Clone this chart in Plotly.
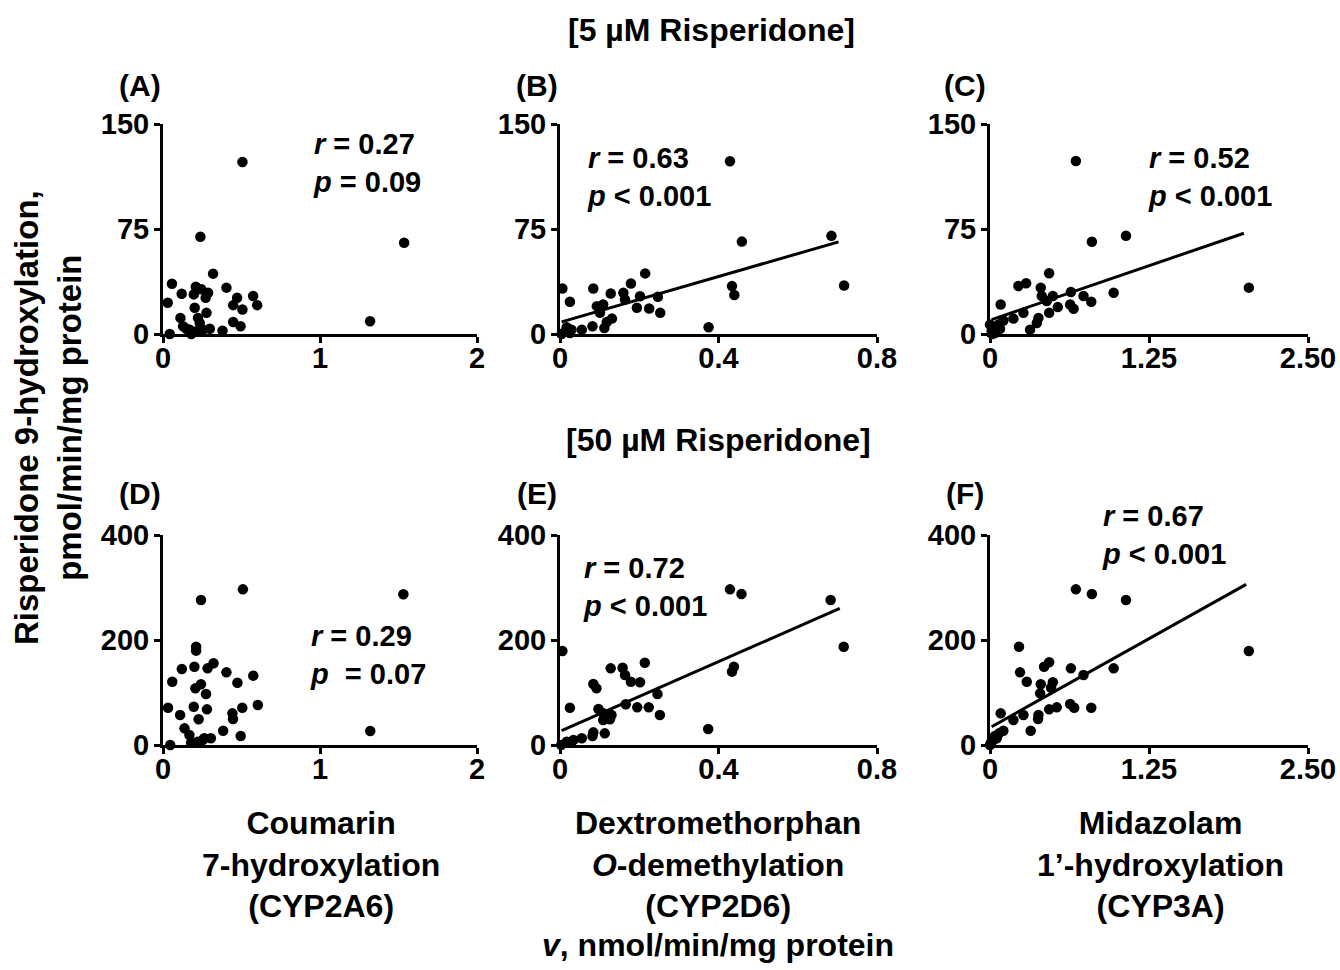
import plotly.graph_objects as go

# ---------------- data ----------------
# Panel A: CYP2A6 vs 5 uM risperidone
a_x = [0.506, 0.238, 1.536, 1.319, 0.319, 0.057, 0.119, 0.030, 0.209, 0.245, 0.287, 0.196,
       0.272, 0.404, 0.472, 0.447, 0.506, 0.574, 0.600, 0.202, 0.277, 0.111, 0.223, 0.128,
       0.170, 0.234, 0.298, 0.379, 0.447, 0.494, 0.043, 0.180, 0.213, 0.255, 0.149]
a_y = [122.9, 69.5, 65.2, 9.1, 43.1, 35.9, 28.8, 22.3, 33.8, 31.9, 29.5, 28.3,
       25.9, 33.1, 25.9, 20.6, 17.5, 27.1, 20.6, 18.7, 15.1, 11.5, 11.5, 5.5,
       3.1, 7.9, 3.8, 2.4, 8.6, 5.5, 0.0, 0.0, 1.9, 3.1, 3.8]

# Panel B: CYP2D6 vs 5 uM risperidone
b_x = [0.429, 0.459, 0.685, 0.717, 0.434, 0.440, 0.375, 0.215, 0.006, 0.025, 0.084, 0.128,
       0.160, 0.179, 0.164, 0.202, 0.247, 0.194, 0.225, 0.253, 0.093, 0.109, 0.101, 0.131,
       0.112, 0.082, 0.055, 0.029, 0.017, 0.004, 0.025, 0.118, 0.013]
b_y = [123.4, 66.0, 70.1, 34.7, 34.2, 27.8, 4.8, 43.3, 32.5, 23.0, 32.5, 28.9,
       29.4, 36.1, 24.6, 27.0, 26.6, 18.7, 18.2, 15.1, 19.9, 21.1, 15.1, 11.0,
       4.3, 5.5, 3.1, 3.1, 4.8, 0.0, 0.7, 8.6, 1.9]

# Panel C: CYP3A vs 5 uM risperidone
c_x = [0.675, 0.801, 1.069, 2.035, 0.972, 0.465, 0.223, 0.284, 0.399, 0.407, 0.494, 0.636,
       0.735, 0.796, 0.446, 0.533, 0.630, 0.657, 0.465, 0.381, 0.368, 0.315, 0.263, 0.184,
       0.084, 0.105, 0.066, 0.026, 0.013, 0.039, 0.079, 0.018, 0.000]
c_y = [123.6, 65.9, 70.2, 33.1, 29.5, 43.4, 34.3, 36.2, 33.1, 27.1, 27.1, 30.0,
       27.1, 23.0, 23.5, 19.2, 21.1, 18.0, 15.1, 11.5, 7.9, 3.1, 15.1, 11.0,
       21.1, 9.6, 6.7, 4.8, 1.9, 0.7, 3.8, 0.0, 6.7]

# Panel D: CYP2A6 vs 50 uM risperidone
d_x = [0.509, 0.242, 1.531, 1.320, 0.211, 0.211, 0.120, 0.200, 0.284, 0.322, 0.404, 0.575,
       0.059, 0.474, 0.242, 0.206, 0.274, 0.032, 0.196, 0.280, 0.505, 0.604, 0.109, 0.442,
       0.227, 0.446, 0.137, 0.383, 0.495, 0.168, 0.305, 0.253, 0.179, 0.046, 0.221, 0.263]
d_y = [296.5, 276.2, 287.0, 26.7, 187.3, 179.7, 144.8, 149.2, 146.0, 155.6, 138.4, 132.1,
       120.6, 118.7, 115.6, 107.9, 97.1, 71.1, 73.0, 67.9, 71.1, 76.2, 57.1, 60.3,
       48.9, 49.5, 31.7, 27.3, 17.1, 19.0, 12.7, 9.5, 4.4, 0.0, 6.3, 12.7]

# Panel E: CYP2D6 vs 50 uM risperidone
e_x = [0.429, 0.458, 0.683, 0.716, 0.006, 0.439, 0.434, 0.374, 0.214, 0.128, 0.158, 0.164,
       0.179, 0.202, 0.084, 0.092, 0.246, 0.166, 0.195, 0.224, 0.252, 0.025, 0.097, 0.109,
       0.130, 0.109, 0.126, 0.113, 0.082, 0.084, 0.055, 0.034, 0.017, 0.003, 0.025]
e_y = [296.5, 287.6, 276.2, 187.3, 179.0, 149.2, 139.7, 30.5, 156.8, 146.0, 147.3, 133.3,
       120.6, 119.4, 116.2, 107.9, 97.1, 77.5, 71.7, 71.7, 57.1, 71.1, 68.6, 60.3,
       57.1, 47.6, 48.9, 22.2, 17.1, 24.1, 12.7, 9.5, 6.3, 0.0, 4.4]

# Panel F: CYP3A vs 50 uM risperidone
f_x = [0.675, 0.801, 1.069, 2.035, 0.228, 0.236, 0.289, 0.465, 0.425, 0.636, 0.972, 0.735,
       0.399, 0.494, 0.394, 0.480, 0.796, 0.630, 0.662, 0.525, 0.465, 0.381, 0.378, 0.263,
       0.184, 0.084, 0.320, 0.105, 0.071, 0.039, 0.026, 0.008, 0.053, 0.000]
f_y = [296.5, 287.6, 276.2, 179.0, 187.3, 138.4, 120.6, 157.5, 149.2, 146.0, 146.0, 133.3,
       115.6, 119.4, 98.4, 109.2, 71.1, 78.1, 71.1, 71.7, 67.9, 57.1, 49.5, 57.1,
       47.6, 60.3, 27.3, 27.3, 22.2, 17.1, 9.5, 4.4, 12.7, 0.0]

# regression lines (slope, intercept, x extent)
b_fit = [81.8, 8.3]
b_fit_x = [0.004, 0.703]
c_fit = [31.1, 9.9]
c_fit_x = [0.013, 1.996]
e_fit = [331.9, 26.0]
e_fit_x = [0.004, 0.706]
f_fit = [135.5, 33.1]
f_fit_x = [0.013, 2.014]

# stats text
r_vals = ["0.27", "0.63", "0.52", "0.29", "0.72", "0.67"]
p_vals = ["= 0.09", "< 0.001", "< 0.001", " = 0.07", "< 0.001", "< 0.001"]
panel_letters = ["(A)", "(B)", "(C)", "(D)", "(E)", "(F)"]

x_ranges = [[0, 2], [0, 0.8], [0, 2.5]]
x_tickvals = [[0, 1, 2], [0, 0.4, 0.8], [0, 1.25, 2.5]]
x_ticktext = [["0", "1", "2"], ["0", "0.4", "0.8"], ["0", "1.25", "2.50"]]
y_ranges = [[0, 150], [0, 400]]
y_tickvals = [[0, 75, 150], [0, 200, 400]]

x_titles = ["Coumarin<br>7-hydroxylation<br>(CYP2A6)",
            "Dextromethorphan<br><i>O</i>-demethylation<br>(CYP2D6)",
            "Midazolam<br>1\u2019-hydroxylation<br>(CYP3A)"]

# ---------------- layout geometry ----------------
W, H = 1340, 970
FONT = "Liberation Sans, Arial, sans-serif"
col_px = [(163, 477), (560, 877), (990, 1308)]
row_px = [(124, 334), (535, 745)]  # top(max) px, bottom(0) px


def dx(p):
    return p / W


def dy(p):
    return 1 - p / H


fig = go.Figure()

panels_data = [(a_x, a_y), (b_x, b_y), (c_x, c_y), (d_x, d_y), (e_x, e_y), (f_x, f_y)]
fits = {1: (b_fit, b_fit_x), 2: (c_fit, c_fit_x), 4: (e_fit, e_fit_x), 5: (f_fit, f_fit_x)}

layout_axes = {}
for i in range(6):
    row, col = divmod(i, 3)
    n = i + 1
    xa = "x" if n == 1 else f"x{n}"
    ya = "y" if n == 1 else f"y{n}"
    xs, ys = panels_data[i]
    fig.add_trace(go.Scatter(x=xs, y=ys, mode="markers", xaxis=xa, yaxis=ya,
                             marker=dict(size=10.5, color="black"), cliponaxis=False,
                             showlegend=False))
    if i in fits:
        (slope, icpt), fx = fits[i]
        fy = [icpt + slope * v for v in fx]
        fig.add_trace(go.Scatter(x=fx, y=fy, mode="lines", xaxis=xa, yaxis=ya,
                                 line=dict(color="black", width=3), cliponaxis=False,
                                 showlegend=False))
    x0, x1 = col_px[col]
    ytop, ybot = row_px[row]
    common = dict(showline=True, linecolor="black", linewidth=3, ticks="outside",
                  ticklen=6, tickwidth=3, tickcolor="black", showgrid=False,
                  zeroline=False, automargin=False,
                  tickfont=dict(family=FONT, size=29, color="black", weight="bold"))
    layout_axes["xaxis" if n == 1 else f"xaxis{n}"] = dict(
        domain=[dx(x0), dx(x1)], anchor=ya, range=x_ranges[col],
        tickvals=x_tickvals[col], ticktext=x_ticktext[col],
        ticklabelstandoff=-10, **common)
    layout_axes["yaxis" if n == 1 else f"yaxis{n}"] = dict(
        domain=[dy(ybot), dy(ytop)], anchor=xa, range=y_ranges[row],
        tickvals=y_tickvals[row], ticklabelstandoff=-1, **common)

fig.update_layout(**layout_axes)

ann = []


def add_text(text, x, y, size, xanchor="center", yanchor="middle", align="center", angle=0):
    ann.append(dict(text=text, x=dx(x), y=dy(y), xref="paper", yref="paper",
                    xanchor=xanchor, yanchor=yanchor, align=align, showarrow=False,
                    textangle=angle,
                    font=dict(family=FONT, size=size, color="black", weight="bold")))


add_text("[5 \u00b5M Risperidone]", 711, 30, 32)
add_text("[50 \u00b5M Risperidone]", 718, 440, 32)

letter_pos = [(140, 85), (537, 85), (965, 85), (140, 493), (537, 493), (965, 493)]
for i, (lx, ly) in enumerate(letter_pos):
    add_text(panel_letters[i], lx, ly, 30)

stat_pos = [(311, 163), (585, 177), (1146, 177), (308, 655), (581, 587), (1100, 535)]
for i, (sx, sy) in enumerate(stat_pos):
    add_text(f"<i>r</i> = {r_vals[i]}<br><i>p</i> {p_vals[i]}", sx, sy, 29,
             xanchor="left", align="left")

title_cx = [321, 718, 1160]
for i, cx in enumerate(title_cx):
    add_text(x_titles[i], cx, 864, 32)

add_text("<i>v</i>, nmol/min/mg protein", 718, 945, 32)
add_text("Risperidone 9-hydroxylation,<br>pmol/min/mg protein", 48, 418, 33, angle=-90)

fig.update_layout(annotations=ann, width=W, height=H,
                  margin=dict(l=0, r=0, t=0, b=0, autoexpand=False),
                  paper_bgcolor="white", plot_bgcolor="white")

fig.write_html("out.html")
